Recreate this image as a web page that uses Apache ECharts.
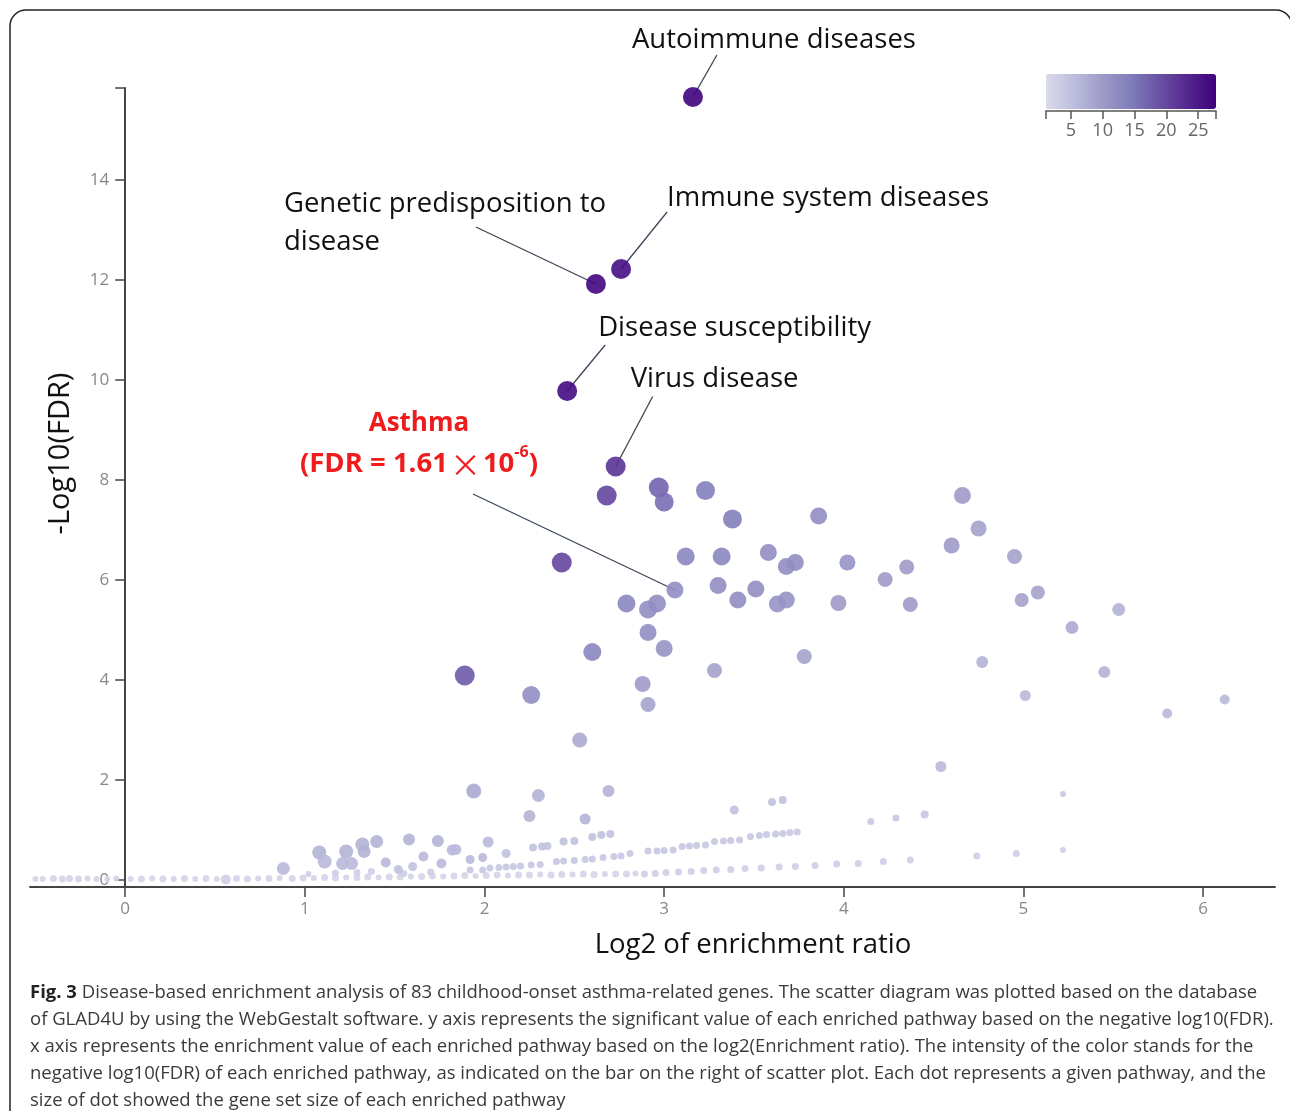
<!DOCTYPE html>
<html><head><meta charset="utf-8">
<script src="https://cdn.jsdelivr.net/npm/echarts@6/dist/echarts.min.js"></script>
<style>html,body{margin:0;padding:0;background:#fff}#c{width:1290px;height:1111px}</style>
</head><body><div id="c"></div><script>
// Each row: [log2 enrichment ratio, -log10(FDR), colour value, gene set size]
var labeledPathways = [
  [3.16, 15.66, 27.5, 256],  // Autoimmune diseases
  [2.76, 12.22, 26.0, 256],  // Immune system diseases
  [2.62, 11.92, 27.0, 256],  // Genetic predisposition to disease
  [2.46, 9.78, 26.5, 256],   // Disease susceptibility
  [2.73, 8.27, 22.0, 256],   // Virus disease
  [3.06, 5.80, 12.0, 169]    // Asthma
];
var labelTexts = [
  'Autoimmune diseases',
  'Immune system diseases',
  'Genetic predisposition to\ndisease',
  'Disease susceptibility',
  'Virus disease',
  '{a|Asthma}\n{b|(FDR = 1.61}{x|×}{b|10}{s|-6}{b|)}'
];
var clusterPathways = [
  [2.68,7.69,20,256],[2.97,7.85,17,256],[3.00,7.56,16,225],[3.23,7.79,14,225],[3.38,7.22,14,225],
  [3.86,7.28,12,169],[2.43,6.35,20,256],[3.12,6.47,13,196],[3.32,6.47,13,196],[3.58,6.55,12,169],
  [3.73,6.35,12,169],[3.68,6.27,12,169],[3.30,5.89,12,169],[3.51,5.82,12,169],[3.41,5.60,12,169],
  [3.68,5.60,11,169],[3.63,5.52,11,169],[3.97,5.54,10,144],[2.79,5.53,13,196],[2.96,5.53,12,196],
  [2.91,5.41,12,196],[2.91,4.95,12,169],[3.00,4.63,11,169],[2.60,4.56,13,196],[3.28,4.19,9,121],
  [3.78,4.47,9,121],[1.89,4.09,18,256],[2.26,3.70,12,196],[2.88,3.92,10,144],[2.91,3.51,9,121],
  [2.53,2.80,8,121]
];
var rightPathways = [
  [4.66,7.69,10,169],[4.75,7.03,9,144],[4.60,6.69,10,144],[4.02,6.35,11,144],[4.35,6.26,10,121],
  [4.23,6.01,10,121],[4.95,6.47,9,121],[5.08,5.75,9,100],[4.99,5.60,9,100],[5.53,5.41,7,81],
  [4.37,5.51,10,121],[5.27,5.05,8,81],[4.77,4.36,7,64],[5.45,4.16,7,64],[5.01,3.69,6,49],
  [5.80,3.33,6,36],[6.12,3.61,6,36]
];
var lowPathways = [
  [1.94,1.78,8,121],[2.30,1.69,7,81],[2.69,1.78,7,64],[2.25,1.28,7,64],[2.56,1.22,7,49],
  [3.39,1.40,5,25],[3.60,1.56,5,16],[3.66,1.60,5,16],[4.15,1.17,4,9],[4.29,1.24,4,9],
  [4.45,1.31,4,16],[4.54,2.27,6,49],[5.22,1.72,4,4],
  [0.88,0.23,6,81],[1.08,0.55,7,100],[1.11,0.37,6,100],[1.23,0.57,7,100],[1.21,0.33,6,81],
  [1.26,0.33,6,81],[1.32,0.71,7,100],[1.33,0.57,7,81],[1.40,0.77,7,81],[1.45,0.35,6,36],
  [1.52,0.21,5,25],[1.58,0.81,7,64],[1.60,0.27,5,25],[1.66,0.47,6,36],[1.74,0.78,7,64],
  [1.76,0.33,6,36],[1.82,0.60,6,49],[1.84,0.61,6,49],[1.92,0.41,6,25],[1.99,0.45,6,25],
  [2.02,0.76,6,49],[2.12,0.53,5,25]
];
var bandPathways = [
  // lower band
  [2.89,0.12,3,9],[2.95,0.13,3,9],[3.01,0.15,3,9],[3.08,0.16,3,9],[3.15,0.17,3,9],[3.22,0.19,3,9],
  [3.29,0.20,3,9],[3.37,0.21,3,9],[3.45,0.23,3,9],[3.54,0.24,3,9],[3.64,0.26,3,9],[3.73,0.27,3,9],
  [3.84,0.29,3,9],[3.96,0.32,3,9],[4.08,0.33,3,9],[4.22,0.37,3,9],[4.37,0.40,3,9],[4.74,0.48,3,9],
  [4.96,0.53,3,9],[5.22,0.60,3,4],
  // middle band
  [1.92,0.20,4,9],[1.99,0.20,4,9],[2.03,0.24,4,9],[2.08,0.25,4,9],[2.12,0.26,4,9],[2.16,0.27,4,9],
  [2.20,0.28,4,9],[2.26,0.30,4,9],[2.31,0.31,4,9],[2.40,0.37,4,9],[2.44,0.38,4,9],[2.50,0.39,4,9],
  [2.56,0.41,4,9],[2.60,0.42,4,9],[2.66,0.45,4,9],[2.72,0.47,4,9],[2.76,0.48,4,9],[2.81,0.53,4,9],
  [2.91,0.58,4,9],[2.96,0.58,4,9],[3.00,0.59,4,9],[3.05,0.60,4,9],[3.10,0.67,4,9],[3.14,0.68,4,9],
  [3.18,0.69,4,9],[3.23,0.70,4,9],[3.28,0.77,4,9],[3.33,0.78,4,9],[3.37,0.79,4,9],[3.42,0.80,4,9],
  [3.48,0.87,4,9],[3.53,0.89,4,9],[3.57,0.91,4,9],[3.62,0.92,4,9],[3.66,0.93,4,9],[3.70,0.95,4,9],
  [3.74,0.96,4,9],
  // upper band
  [2.27,0.65,5,16],[2.32,0.67,5,16],[2.35,0.68,5,16],[2.44,0.77,5,16],[2.50,0.78,5,16],
  [2.60,0.86,5,16],[2.65,0.90,5,16],[2.70,0.92,5,16]
];
var nearZeroPathways = [
  [-0.50,0.02,2,4],[-0.46,0.02,2,4],[-0.40,0.03,2,9],[-0.35,0.02,2,9],[-0.31,0.03,2,9],[-0.26,0.02,2,9],
  [-0.21,0.03,2,4],[-0.16,0.02,2,4],[-0.10,0.02,2,4],[-0.05,0.03,2,4],[0.03,0.02,2,4],[0.09,0.02,2,9],
  [0.15,0.03,2,4],[0.21,0.02,2,9],[0.27,0.02,2,4],[0.33,0.03,2,9],[0.39,0.02,2,4],[0.45,0.03,2,9],
  [0.51,0.02,2,4],[0.56,0.01,3,36],[0.62,0.03,2,9],[0.68,0.02,2,9],[0.74,0.03,2,4],[0.80,0.03,2,9],
  [0.86,0.04,2,4],[0.93,0.03,2,9],[0.99,0.04,2,9],[1.05,0.04,2,4],[1.11,0.05,2,9],[1.17,0.04,2,9],
  [1.23,0.05,2,4],[1.29,0.05,2,9],[1.35,0.06,2,9],[1.41,0.05,2,4],[1.47,0.06,2,9],[1.53,0.06,2,9],
  [1.59,0.07,2,4],[1.65,0.07,2,9],[1.71,0.08,2,9],[1.77,0.07,2,4],[1.83,0.08,2,9],[1.89,0.09,2,9],
  [1.95,0.08,2,4],[2.01,0.09,2,9],[2.07,0.10,2,9],[2.13,0.09,2,4],[2.19,0.10,2,9],[2.25,0.10,2,9],
  [2.31,0.11,2,4],[2.37,0.10,2,9],[2.43,0.11,2,9],[2.49,0.11,2,4],[2.55,0.12,2,9],[2.61,0.11,2,9],
  [2.67,0.12,2,4],[2.73,0.12,2,9],[2.79,0.12,2,9],[2.84,0.13,2,4],
  [1.02,0.12,3,4],[1.17,0.14,3,9],[1.29,0.15,3,9],[1.37,0.17,3,9],[1.55,0.13,3,9],[1.70,0.16,3,9]
];
var xTickValues = [0, 1, 2, 3, 4, 5, 6];
var yTickValues = [0, 2, 4, 6, 8, 10, 12, 14];
var colorBarTicks = [5, 10, 15, 20, 25];
var xMin = -0.53, xMax = 6.4, yMin = -0.14, yMax = 15.84;
var colorMin = 1.1, colorMax = 27.8;
var caption = '{b|Fig. 3} Disease-based enrichment analysis of 83 childhood-onset asthma-related genes. The scatter diagram was plotted based on the database\n' +
  'of GLAD4U by using the WebGestalt software. y axis represents the significant value of each enriched pathway based on the negative log10(FDR).\n' +
  'x axis represents the enrichment value of each enriched pathway based on the log2(Enrichment ratio). The intensity of the color stands for the\n' +
  'negative log10(FDR) of each enriched pathway, as indicated on the bar on the right of scatter plot. Each dot represents a given pathway, and the\n' +
  'size of dot showed the gene set size of each enriched pathway';

// label placement (pixel offsets from the dot): leader-line end and text anchor
var labelLayout = [
  {line: [24, -42], text: [-61, -57], align: 'left'},
  {line: [46, -57], text: [46, -71], align: 'left'},
  {line: [-120, -57], text: [-312, -61], align: 'left'},
  {line: [38, -46], text: [31, -63], align: 'left'},
  {line: [37, -70], text: [15, -87], align: 'left'},
  {line: [-202, -96], text: [-256, -146], align: 'center'}
];

var allPoints = [].concat(nearZeroPathways, bandPathways, lowPathways, rightPathways, clusterPathways, labeledPathways);
var FONT = '"Open Sans", "Noto Sans", sans-serif';
var GRID_LEFT = 30, GRID_RIGHT = 15;
var plotWidth = 1290 - GRID_LEFT - GRID_RIGHT;
// shift the y axis so it sits at x = 0 of the enrichment axis
var yAxisOffset = -plotWidth * (0 - xMin) / (xMax - xMin);

function renderAnnotation(params, api) {
  var i = params.dataIndex;
  var lay = labelLayout[i];
  var p = api.coord([api.value(0), api.value(1)]);
  var isAsthma = i === labeledPathways.length - 1;
  var textStyle = {
    text: labelTexts[i], fill: '#111', font: '27.5px ' + FONT, align: lay.align,
    verticalAlign: 'middle', lineHeight: 38
  };
  if (isAsthma) {
    textStyle.rich = {
      a: {fill: '#ee1c1c', fontWeight: 'bold', fontSize: 26, fontFamily: FONT, lineHeight: 40},
      b: {fill: '#ee1c1c', fontWeight: 'bold', fontSize: 27.5, fontFamily: FONT, lineHeight: 40},
      x: {fill: '#ee1c1c', fontWeight: 'normal', fontSize: 31, fontFamily: '"Noto Sans CJK SC"', lineHeight: 40, padding: [0, 2, 0, 2]},
      s: {fill: '#ee1c1c', fontWeight: 'bold', fontSize: 16, fontFamily: FONT, verticalAlign: 'top', lineHeight: 40}
    };
  }
  return {
    type: 'group',
    children: [
      {type: 'line', shape: {x1: p[0], y1: p[1], x2: p[0] + lay.line[0], y2: p[1] + lay.line[1]},
        style: {stroke: '#3b4757', lineWidth: 1.3}},
      {type: 'text', x: p[0] + lay.text[0], y: p[1] + lay.text[1], style: textStyle}
    ]
  };
}

var chart = echarts.init(document.getElementById('c'));
chart.setOption({
  animation: false,
  backgroundColor: '#fff',
  textStyle: {fontFamily: FONT},
  title: {
    left: 25, top: 974, text: caption,
    textStyle: {fontSize: 18.5, fontWeight: 'normal', color: '#3a3a3a', lineHeight: 27, fontFamily: FONT,
      rich: {b: {fontWeight: 'bold', fontSize: 18.5, color: '#222', lineHeight: 27, fontFamily: FONT}}}
  },
  graphic: [{
    type: 'rect', shape: {x: 10, y: 10, width: 1282, height: 1130, r: 16},
    style: {fill: 'none', stroke: '#222', lineWidth: 1.5}, silent: true
  }],
  grid: [
    {left: GRID_LEFT, right: GRID_RIGHT, top: 88, bottom: 224, containLabel: false, outerBoundsMode: 'none'},
    {left: 1046, top: 109, width: 170, height: 2, containLabel: false, outerBoundsMode: 'none'}
  ],
  visualMap: {
    type: 'continuous', min: colorMin, max: colorMax, dimension: 2, seriesIndex: 0,
    orient: 'horizontal', left: 1046, top: 74, itemWidth: 35, itemHeight: 170, padding: 0,
    calculable: false, hoverLink: false, realtime: false,
    inRange: {color: ['#dadaeb', '#bcbddc', '#9e9ac8', '#807dba', '#6a51a3', '#54278f', '#3f007d']}
  },
  xAxis: [{
    type: 'value', min: xMin, max: xMax,
    axisLine: {onZero: false, lineStyle: {color: '#444', width: 2}},
    axisTick: {customValues: xTickValues, length: 10, lineStyle: {color: '#444', width: 1.5}},
    axisLabel: {customValues: xTickValues, color: '#888', fontSize: 17, margin: 14},
    splitLine: {show: false},
    name: 'Log2 of enrichment ratio', nameLocation: 'middle', nameGap: 44,
    nameTextStyle: {fontSize: 27.5, color: '#111', padding: [0, 0, 0, 201]}
  }, {
    gridIndex: 1, type: 'value', min: colorMin, max: colorMax, position: 'bottom',
    axisLine: {onZero: false, lineStyle: {color: '#555', width: 1.5}},
    axisTick: {customValues: [colorMin].concat(colorBarTicks, [colorMax]), length: 8, lineStyle: {color: '#555', width: 1.5}},
    axisLabel: {customValues: colorBarTicks, color: '#666', fontSize: 18, margin: 11},
    splitLine: {show: false}
  }],
  yAxis: [{
    type: 'value', min: yMin, max: yMax, position: 'left', offset: yAxisOffset,
    axisLine: {onZero: false, lineStyle: {color: '#444', width: 2}},
    axisTick: {customValues: yTickValues.concat([yMax]), length: 10, lineStyle: {color: '#444', width: 1.5}},
    axisLabel: {customValues: yTickValues, color: '#888', fontSize: 17, margin: 16},
    splitLine: {show: false},
    name: '-Log10(FDR)', nameLocation: 'middle', nameGap: 50, nameRotate: 90,
    nameTextStyle: {fontSize: 29, color: '#111', padding: [0, 0, 0, 68]}
  }, {
    gridIndex: 1, type: 'value', min: 0, max: 1, show: false
  }],
  series: [{
    type: 'scatter', data: allPoints, z: 3,
    symbolSize: function (v) { return 4 + Math.sqrt(v[3]); },
    itemStyle: {opacity: 0.9}
  }, {
    type: 'custom', data: labeledPathways, z: 2, clip: false, silent: true,
    renderItem: renderAnnotation
  }]
});
</script></body></html>
